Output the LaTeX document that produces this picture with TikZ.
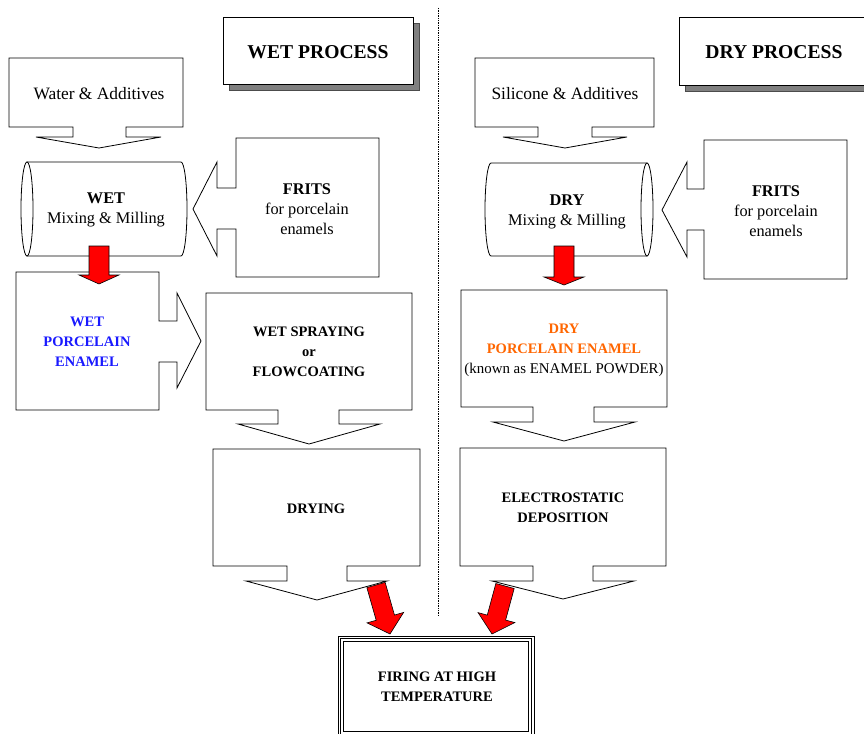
\documentclass[tikz,border=0pt]{standalone}
\usepackage{fontspec}
\setmainfont{Liberation Serif}
\usetikzlibrary{calc}
\definecolor{wetblue}{RGB}{25,25,255}
\definecolor{dryorange}{RGB}{255,102,0}
\tikzset{
  shapeline/.style={draw=black, line width=0.8pt, fill=white, line join=miter},
  shadowbox/.style={fill=black!50, draw=black!70, line width=0.4pt},
  lbl/.style={align=center, inner sep=0pt, font=\fontsize{14.5}{20}\selectfont\bfseries},
  reg/.style={align=center, inner sep=0pt, font=\fontsize{16.3}{20}\selectfont},
  bigreg/.style={align=center, inner sep=0pt, font=\fontsize{17.4}{20}\selectfont},
  ttl/.style={align=center, inner sep=0pt, font=\fontsize{19.6}{22}\selectfont\bfseries},
  redarrow/.style={fill=red, draw=black, line width=0.6pt, line join=miter},
  divider/.style={densely dotted, line width=0.7pt},
}
% #1 start, #2 tip, #3 shaft half width, #4 head half width, #5 head length
\newcommand\fatarrow[5]{%
  \coordinate (fa-b) at ($(#2)!#5!(#1)$);
  \draw[redarrow] ($(#1)!#3!90:(#2)$) -- ($(fa-b)!#3!-90:(#1)$)
    -- ($(fa-b)!#4!-90:(#1)$) -- (#2) -- ($(fa-b)!#4!90:(#1)$)
    -- ($(fa-b)!#3!90:(#1)$) -- ($(#1)!#3!-90:(#2)$) -- cycle;
}
\begin{document}
\begin{tikzpicture}[x=1pt,y=-1pt]
\useasboundingbox (0,0) rectangle (864,733);
\clip (0,0) rectangle (864,733);

% divider
\coordinate (divtop) at (438,8);
\coordinate (divbot) at (438,615);
\draw[divider] (divtop) -- (divbot);

% titles
\fill[shadowbox] (229,23) rectangle (419,90);
\draw[shapeline] (223,17) rectangle (413,84);
\node[ttl] (wetproc) at (318,52) {WET PROCESS};
\fill[shadowbox] (685,23) rectangle (880,91);
\draw[shapeline] (679,17) rectangle (874,85);
\node[ttl] (dryproc) at (774,52) {DRY PROCESS};

% Water & Additives (down callout)
\draw[shapeline] (9,58) -- (183,58) -- (183,127) -- (126,127) -- (126,137) -- (161,137)
  -- (99,148) -- (36,137) -- (73,137) -- (73,127) -- (9,127) -- cycle;
\node[bigreg] (water) at (99,94) {Water \& Additives};

% Silicone & Additives
\draw[shapeline] (475,58) -- (654,58) -- (654,127) -- (592,127) -- (592,137) -- (627,137)
  -- (565,148) -- (503,137) -- (538,137) -- (538,127) -- (475,127) -- cycle;
\node[bigreg] (silicone) at (565,94) {Silicone \& Additives};

% WET cylinder
\draw[shapeline] (27,162) -- (181,162) arc[start angle=-90, end angle=90, x radius=6, y radius=47] -- (27,256) -- cycle;
\draw[shapeline] (27,209) ellipse [x radius=6, y radius=47];
\node[reg] (wetmill) at (106,210) {\textbf{WET}\\Mixing \& Milling};

% DRY cylinder
\draw[shapeline] (647,163) -- (491,163) arc[start angle=270, end angle=90, x radius=6, y radius=46.5] -- (647,256) -- cycle;
\draw[shapeline] (647,209.5) ellipse [x radius=6, y radius=46.5];
\node[reg] (drymill) at (567,212) {\textbf{DRY}\\Mixing \& Milling};

% FRITS wet (left callout)
\draw[shapeline] (236,138) -- (379,138) -- (379,277) -- (236,277) -- (236,229) -- (217,229)
  -- (217,256) -- (193,209) -- (217,162) -- (217,188) -- (236,188) -- cycle;
\node[reg] (fritswet) at (307,209) {\textbf{FRITS}\\for porcelain\\enamels};

% FRITS dry
\draw[shapeline] (704,140) -- (847,140) -- (847,279) -- (704,279) -- (704,230) -- (687,230)
  -- (687,257) -- (662,210) -- (687,162) -- (687,189) -- (704,189) -- cycle;
\node[reg] (fritsdry) at (776,211) {\textbf{FRITS}\\for porcelain\\enamels};

% WET PORCELAIN ENAMEL (right callout)
\draw[shapeline] (16,272) -- (159,272) -- (159,321) -- (177,321) -- (177,293) -- (201,341)
  -- (177,388) -- (177,362) -- (159,362) -- (159,410) -- (16,410) -- cycle;
\node[lbl, text=wetblue] (wetenamel) at (87,342) {WET\\PORCELAIN\\ENAMEL};

% WET SPRAYING
\draw[shapeline] (206,293) -- (412,293) -- (412,410) -- (339,410) -- (339,424) -- (380,424)
  -- (309,444) -- (238,424) -- (278,424) -- (278,410) -- (206,410) -- cycle;
\node[lbl] (spray) at (309,352) {WET SPRAYING\\or\\FLOWCOATING};

% DRY PORCELAIN ENAMEL
\draw[shapeline] (461,290) -- (667,290) -- (667,407) -- (594,407) -- (594,422) -- (635,422)
  -- (564,441) -- (493,422) -- (533,422) -- (533,407) -- (461,407) -- cycle;
\node[lbl, text=dryorange] (dryenamel) at (564,350) {DRY\\PORCELAIN ENAMEL\\\normalfont\color{black}\fontsize{14.9}{20}\selectfont(known as ENAMEL POWDER)};

% DRYING
\draw[shapeline] (213,449) -- (420,449) -- (420,566) -- (347,566) -- (347,581) -- (387,581)
  -- (317,600) -- (246,581) -- (287,581) -- (287,566) -- (213,566) -- cycle;
\node[lbl] (drying) at (316,509) {DRYING};

% ELECTROSTATIC DEPOSITION
\draw[shapeline] (460,448) -- (666,448) -- (666,566) -- (593,566) -- (593,581) -- (634,581)
  -- (563,599) -- (492,581) -- (533,581) -- (533,566) -- (460,566) -- cycle;
\node[lbl] (electro) at (563,508) {ELECTROSTATIC\\DEPOSITION};

% FIRING
\draw[line width=0.8pt] (338,636) rectangle (534,738);
\draw[line width=0.8pt] (340.5,638.5) rectangle (531.5,735.5);
\draw[line width=0.8pt] (343.5,641.5) rectangle (528.5,731.5);
\node[lbl] (firing) at (437,687) {FIRING AT HIGH\\TEMPERATURE};

% red arrows
\coordinate (wa-s) at (99,246);  \coordinate (wa-t) at (99,284);
\coordinate (da-s) at (564,246); \coordinate (da-t) at (564,285);
\coordinate (la-s) at (376,585); \coordinate (la-t) at (390,634);
\coordinate (ra-s) at (505,586); \coordinate (ra-t) at (492,634);
\fatarrow{wa-s}{wa-t}{10pt}{20pt}{9pt}
\fatarrow{da-s}{da-t}{10pt}{20pt}{8pt}
\fatarrow{la-s}{la-t}{9.5pt}{19pt}{17pt}
\fatarrow{ra-s}{ra-t}{9.5pt}{19pt}{17pt}
\end{tikzpicture}
\end{document}
